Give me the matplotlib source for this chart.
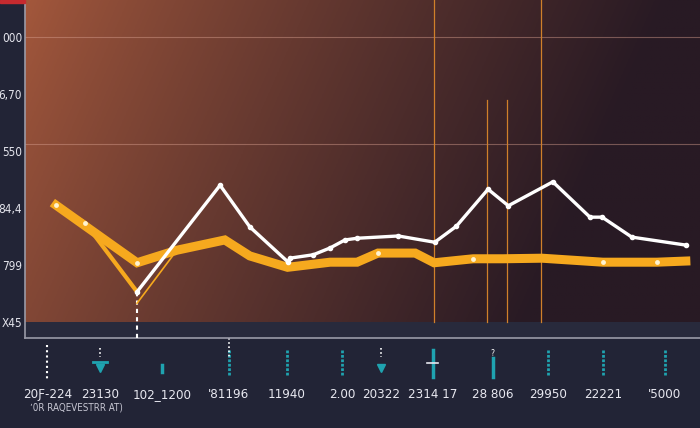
import numpy as np
import matplotlib
matplotlib.use("Agg")
import matplotlib.pyplot as plt
from matplotlib.patches import Rectangle

plt.rcParams['font.family'] = ['DejaVu Sans']
plt.rcParams['font.stretch'] = 'condensed'

# y tick labels (evenly spaced positions 0..5)
y_ticks = [0, 1, 2, 3, 4, 5]
y_labels = ["X45", "799", "84,4", "550", "6,70", "000"]

# x tick labels
x_ticks = [3.3, 11.1, 20.3, 30.2, 38.8, 47.0, 52.7, 60.4, 69.3, 77.5, 85.6, 94.8]
x_labels = ["20Ƒ-224", "23130", "102_1200", "'81196", "11940", "2.00",
            "20322", "2314 17", "28 806", "29950", "22221", "'5000"]

# white series
white_x = [16.6, 28.9, 33.3, 39.0, 39.2, 42.7, 45.2, 47.4, 49.2, 55.3, 60.7,
           63.9, 68.6, 71.6, 78.2, 83.7, 85.5, 89.9, 97.9]
white_y = [0.53, 2.40, 1.67, 1.05, 1.12, 1.18, 1.30, 1.44, 1.47, 1.51, 1.40,
           1.68, 2.33, 2.04, 2.46, 1.84, 1.84, 1.49, 1.35]

# thick orange series
orange_x = [4.6, 16.6, 22.5, 29.6, 33.3, 38.9, 45.2, 49.2, 52.3, 57.8, 60.6,
            66.4, 70.8, 76.6, 85.6, 93.6, 97.9]
orange_y = [2.05, 1.04, 1.26, 1.44, 1.16, 0.96, 1.05, 1.05, 1.21, 1.21, 1.04,
            1.11, 1.11, 1.12, 1.05, 1.05, 1.07]

# secondary orange strokes
mid_x = [4.6, 8.9, 16.6]
mid_y = [2.05, 1.74, 0.53]
thin_x = [16.6, 22.5]
thin_y = [0.33, 1.26]

# reference lines
vfull_x = [60.6, 76.4]
vpart_x = [68.4, 71.4]
vpart_top = 3.89
grid_y = [5.0, 3.12]

fig = plt.figure(figsize=(7, 4.28), dpi=100, facecolor='#222436')
ax = fig.add_axes([25 / 700, 90 / 428, 675 / 700, 338 / 428])
ymin, ymax = -0.28, 5.65
ax.set_xlim(0, 100)
ax.set_ylim(ymin, ymax)
ax.set_facecolor('#282a3c')

# gradient background
w, h = 300, 150
gx = np.linspace(0, 1, w)[None, :]
gy = np.linspace(0, 1, h)[:, None]
left = np.array([164, 88, 60]) / 255
right = np.array([40, 26, 36]) / 255
t = np.clip(gx * 1.05 + gy * 0.22, 0, 1) ** 0.85
img = left[None, None, :] * (1 - t[..., None]) + right[None, None, :] * t[..., None]
ax.imshow(img, extent=[0, 100, 0.0, ymax], aspect='auto', zorder=0, origin='upper')

for g in grid_y:
    ax.axhline(g, color='#d8a090', lw=0.8, alpha=0.45, zorder=1)

for v in vfull_x:
    ax.plot([v, v], [0, ymax], color='#d0802a', lw=0.9, zorder=2)
for v in vpart_x:
    ax.plot([v, v], [0, vpart_top], color='#d0802a', lw=0.9, zorder=2)

ax.plot([16.6, 16.6], [ymin, 0.53], color='white', lw=1.5, ls=(0, (2, 2)), zorder=3)

ax.plot(orange_x, orange_y, color='#f6a91e', lw=6.5, solid_joinstyle='miter', zorder=4)
ax.plot(mid_x, mid_y, color='#f6a91e', lw=3, zorder=4)
ax.plot(thin_x, thin_y, color='#f6a91e', lw=1.2, zorder=4)
ax.plot(orange_x[:1] + [8.9, 16.6, 52.3, 66.4, 85.6, 93.6],
        [2.05, 1.74, 1.04, 1.21, 1.11, 1.05, 1.05],
        ls='none', marker='o', ms=3.5, mfc='#fff3d0', mec='none', zorder=5)
ax.plot(white_x, white_y, color='white', lw=2.4, marker='o', ms=3, zorder=6)

ax.set_yticks(y_ticks, y_labels)
ax.set_xticks(x_ticks, x_labels)
ax.tick_params(axis='y', length=0, pad=2, labelsize=8.5, labelcolor='#e4e4ec')
ax.tick_params(axis='x', length=0, pad=36, labelsize=9.5, labelcolor='#e8e8f0')
for s in ['top', 'right']:
    ax.spines[s].set_visible(False)
for s in ['left', 'bottom']:
    ax.spines[s].set_color('#9a9aa8')
    ax.spines[s].set_linewidth(1.2)

# decorative tick markers below the axis
tr = ax.get_xaxis_transform()
teal = '#1fa3b0'
for xv in [30.2, 38.8, 47.0, 77.5, 85.6, 94.8]:
    ax.plot([xv, xv], [-0.035, -0.11], color=teal, lw=2, ls=(0, (1, 0.6)),
            transform=tr, clip_on=False)
ax.plot([3.3, 3.3], [-0.02, -0.125], color='white', lw=1.5, ls=(0, (1, 1.5)),
        transform=tr, clip_on=False)
for xv in [11.1, 52.7]:
    ax.plot([xv, xv], [-0.03, -0.055], color='white', lw=1.2, ls=(0, (1, 1.5)),
            transform=tr, clip_on=False)
    ax.plot([xv], [-0.09], marker='v', ms=6, color=teal, transform=tr, clip_on=False)
ax.plot([11.1 - 1, 11.1 + 1], [-0.072, -0.072], color=teal, lw=2, transform=tr, clip_on=False)
ax.plot([20.3, 20.3], [-0.08, -0.1], color=teal, lw=2.5, transform=tr, clip_on=False)
ax.plot([30.2, 30.2], [-0.0, -0.06], color='white', lw=1.2, ls=(0, (1, 1.5)),
        transform=tr, clip_on=False)
ax.plot([60.4, 60.4], [-0.035, -0.115], color=teal, lw=2.5, transform=tr, clip_on=False)
ax.plot([59.6, 61.2], [-0.075, -0.075], color='#e8e8f0', lw=1.2, transform=tr, clip_on=False)
ax.plot([69.3, 69.3], [-0.06, -0.115], color=teal, lw=2.5, transform=tr, clip_on=False)
ax.text(69.3, -0.045, '?', transform=tr, color='white', fontsize=6, ha='center', va='center')

fig.text(30 / 700, 1 - 408 / 428, "ʼ0R RAQEVESTRR AT)", color='#c8c8d4',
         fontsize=7, ha='left', va='center')
fig.patches.append(Rectangle((0, 1 - 3 / 428), 25 / 700, 3 / 428,
                             transform=fig.transFigure, color='#c62a2f'))

fig.savefig('out.png', dpi=100, facecolor=fig.get_facecolor())
